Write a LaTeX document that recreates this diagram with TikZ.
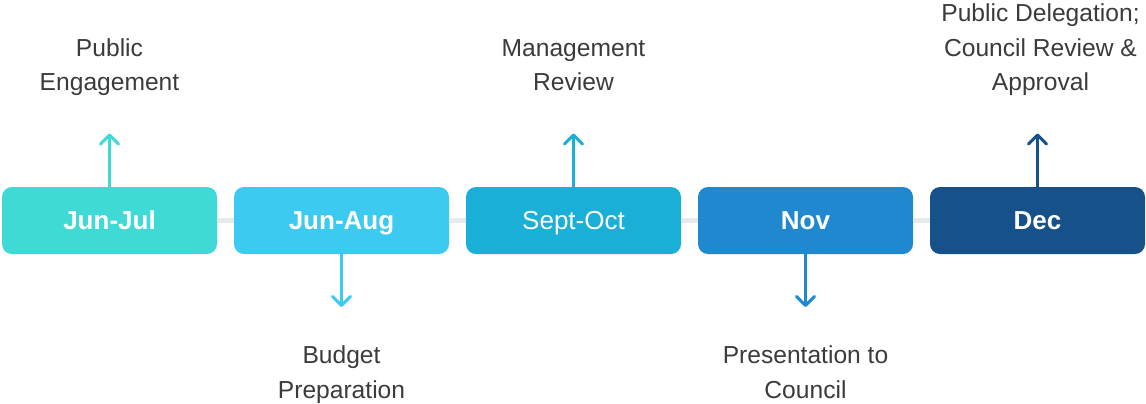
\documentclass[tikz,border=0pt]{standalone}
\usepackage{fontspec}
\setmainfont{Liberation Sans}
\usetikzlibrary{arrows.meta,positioning}

\definecolor{julc}{HTML}{40DAD6}
\definecolor{augc}{HTML}{3CCAF0}
\definecolor{octc}{HTML}{1AAFD6}
\definecolor{novc}{HTML}{1F88CF}
\definecolor{decc}{HTML}{165289}
\definecolor{trackc}{HTML}{E6EAED}
\definecolor{ink}{HTML}{3B3B3B}

\tikzset{
  phase/.style={rounded corners=5pt, minimum width=107.5pt, minimum height=33.5pt,
    inner sep=0pt, outer sep=0pt, text height=9pt, text depth=0.5pt,
    text=white, font=\fontsize{13}{15}\selectfont\bfseries},
  track/.style={draw=trackc, line width=2.5pt},
  pointer/.style={line width=1.5pt, line cap=round,
    -{Straight Barb[length=4.5pt,width=9pt,round]}},
  note/.style={align=center, inner sep=0pt, text=ink,
    font=\fontsize{12.3}{17.25}\selectfont}
}

\begin{document}
\begin{tikzpicture}[x=0.5pt,y=-0.5pt]
  \useasboundingbox (0,0) rectangle (1146,403);

  % the five phases
  \node[phase, fill=julc] (jul) at (109.5,220.5) {Jun-Jul};
  \node[phase, fill=augc, right=8.5pt of jul] (aug) {Jun-Aug};
  \node[phase, fill=octc, right=8.5pt of aug, font=\fontsize{13}{15}\selectfont] (oct) {Sept-Oct};
  \node[phase, fill=novc, right=8.5pt of oct] (nov) {Nov};
  \node[phase, fill=decc, right=8.5pt of nov] (dec) {Dec};

  \foreach \a/\b in {jul/aug, aug/oct, oct/nov, nov/dec}
    \draw[track] (\a) -- (\b);

  % arrows up
  \foreach \n in {jul, oct, dec}
    \coordinate[above=26.75pt of \n.north] (\n tip);
  % arrows down
  \foreach \n in {aug, nov}
    \coordinate[below=26.5pt of \n.south] (\n tip);

  \foreach \n/\c in {jul/julc, aug/augc, oct/octc, nov/novc, dec/decc}
    \draw[pointer, draw=\c] (\n) -- (\n tip);

  \node[note, above=16pt of jultip] (julnote) {Public\\Engagement\strut};
  \node[note, above=16pt of octtip] (octnote) {Management\\Review\strut};
  \node[note, above=16pt of dectip, xshift=1.5pt] (decnote)
    {Public Delegation;\\Council Review \&\\Approval\strut};
  \node[note, below=16pt of augtip] (augnote) {\strut Budget\\Preparation};
  \node[note, below=16pt of novtip] (novnote) {\strut Presentation to\\Council};
\end{tikzpicture}
\end{document}
